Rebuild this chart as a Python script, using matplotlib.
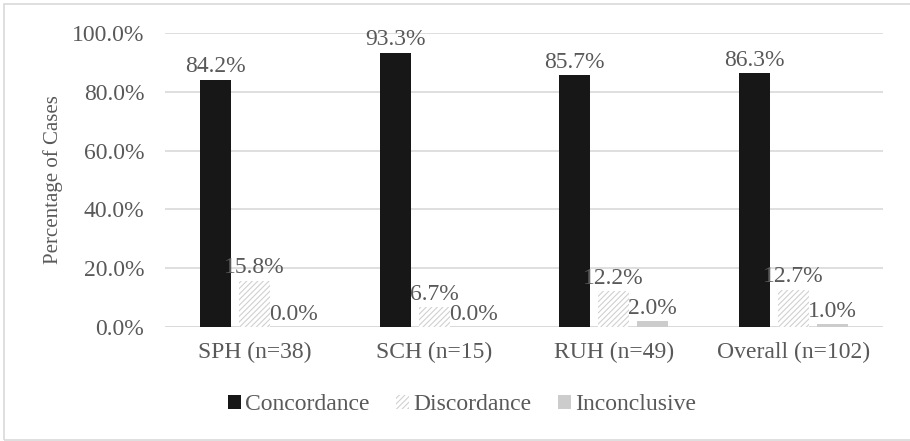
import matplotlib.pyplot as plt
import numpy as np
from matplotlib.patches import Rectangle

categories = ["SPH (n=38)", "SCH (n=15)", "RUH (n=49)", "Overall (n=102)"]
concordance = [84.2, 93.3, 85.7, 86.3]
discordance = [15.8, 6.7, 12.2, 12.7]
inconclusive = [0.0, 0.0, 2.0, 1.0]
series_names = ["Concordance", "Discordance", "Inconclusive"]
yticks = [0, 20, 40, 60, 80, 100]

plt.rcParams['font.family'] = ['Liberation Serif', 'DejaVu Serif']
plt.rcParams['hatch.color'] = '#d0d0d0'
plt.rcParams['hatch.linewidth'] = 0.8
txt = '#595959'
fs = 17

fig = plt.figure(figsize=(9.1, 4.41), dpi=100)
ax = fig.add_axes([0.1813, 0.2585, 0.9703 - 0.1813, 0.925 - 0.2585])

x = np.arange(len(categories))
w = 0.173
step = 0.217

b1 = ax.bar(x - step, concordance, w, color='#171717', label=series_names[0], zorder=2)
b2 = ax.bar(x, discordance, w, color='white', edgecolor='#d0d0d0', linewidth=0,
            hatch='//////', label=series_names[1], zorder=2)
b3 = ax.bar(x + step, inconclusive, w, color='#cccccc', label=series_names[2], zorder=2)

for bars, vals in ((b1, concordance), (b2, discordance), (b3, inconclusive)):
    for rect, v in zip(bars, vals):
        ax.text(rect.get_x() + rect.get_width() / 2, v + 0.8, f"{v:.1f}%",
                ha='center', va='bottom', fontsize=fs, color=txt, zorder=3)

ax.set_xlim(-0.5, len(categories) - 0.5)
ax.set_ylim(0, 100)
ax.set_yticks(yticks)
ax.set_yticklabels([f"{t:.1f}%" for t in yticks], fontsize=fs, color=txt)
ax.set_xticks(x)
ax.set_xticklabels(categories, fontsize=fs, color=txt)
ax.tick_params(axis='x', length=0, pad=11)
ax.tick_params(axis='y', length=0, pad=15)

ax.grid(axis='y', color='#d9d9d9', linewidth=1.2, zorder=0)
for s in ax.spines.values():
    s.set_visible(False)
ax.axhline(0, color='#d9d9d9', linewidth=1.2, zorder=1)

ax.set_ylabel("Percentage of Cases", fontsize=15, color=txt)
ax.yaxis.set_label_coords(-(165 - 63) / 718, 0.5)

leg = fig.legend(handles=[b1, b2, b3], labels=series_names, loc='center',
                 bbox_to_anchor=(462 / 910, 1 - 405 / 441), ncol=3, frameon=False,
                 fontsize=fs, handlelength=0.55, handleheight=0.55,
                 handletextpad=0.2, columnspacing=1.1)
for t in leg.get_texts():
    t.set_color(txt)

fig.patches.append(Rectangle((4 / 910, 1 / 441), 1.2, 1 - 5 / 441, transform=fig.transFigure,
                             fill=False, edgecolor='#d9d9d9', linewidth=1.2))

fig.savefig("out.png", dpi=100)
